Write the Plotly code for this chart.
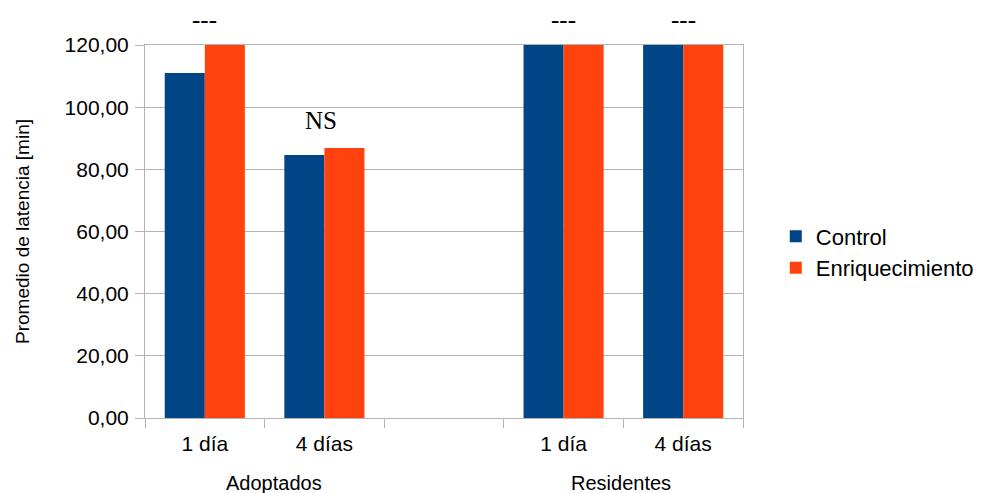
import plotly.graph_objects as go

# ---- data ----
cat_keys = ["A_1", "A_4", "gap", "R_1", "R_4"]
cat_labels = ["1 día", "4 días", "", "1 día", "4 días"]
control = [111.0, 84.6, None, 120.0, 120.0]
enriquecimiento = [120.0, 86.9, None, 120.0, 120.0]
series_names = ["Control", "Enriquecimiento"]
series_colors = ["#004586", "#ff420e"]

group_labels = ["Adoptados", "Residentes"]
mark_cats = ["A_1", "A_4", "R_1", "R_4"]
mark_text = ["---", "NS", "---", "---"]
y_ticks = [0, 20, 40, 60, 80, 100, 120]

fig = go.Figure()
for name, vals, col in zip(series_names, [control, enriquecimiento], series_colors):
    fig.add_trace(go.Bar(x=cat_keys, y=vals, name=name, marker=dict(color=col, line=dict(width=0))))

for c, t in zip(mark_cats, mark_text):
    if t == "NS":
        fig.add_annotation(x=c, y=95, xref="x", yref="y", text=t, showarrow=False,
                           xshift=-3, yshift=2, font=dict(family="Liberation Serif", size=25, color="#000"))
    else:
        fig.add_annotation(x=c, y=120, xref="x", yref="y", text=t, showarrow=False,
                           yshift=26, yanchor="middle",
                           font=dict(family="Liberation Serif", size=25, color="#000"))

for lab, px in zip(group_labels, [0.216, 0.796]):
    fig.add_annotation(x=px, y=-0.174, xref="paper", yref="paper", text=lab, showarrow=False,
                       xanchor="center", yanchor="middle",
                       font=dict(family="Liberation Sans", size=20, color="#000"))

grid = "#b3b3b3"
fig.update_layout(
    width=982, height=493,
    margin=dict(l=145, r=239, t=45, b=75),
    paper_bgcolor="white", plot_bgcolor="white",
    barmode="group", bargap=0.33, bargroupgap=0,
    font=dict(family="Liberation Sans", color="#000"),
    showlegend=True,
    legend=dict(xref="container", x=0.7900, xanchor="left", y=0.444, yanchor="middle",
                font=dict(size=22, color="#000"), bgcolor="rgba(0,0,0,0)",
                tracegroupgap=0, itemwidth=30),
    xaxis=dict(type="category", categoryorder="array", categoryarray=cat_keys,
               tickvals=cat_keys, ticktext=cat_labels, tickson="boundaries",
               ticks="outside", ticklen=9, tickcolor=grid, showgrid=False,
               showline=True, linecolor=grid, mirror=True,
               ticklabelstandoff=7,
               tickfont=dict(size=21, color="#000")),
    yaxis=dict(range=[0, 120], tickvals=y_ticks, tickformat=".2f",
               ticks="outside", ticklen=9, tickcolor=grid,
               showgrid=True, gridcolor=grid, zeroline=False,
               showline=True, linecolor=grid, mirror=True,
               ticklabelstandoff=2,
               tickfont=dict(size=21, color="#000"),
               title=dict(text="Promedio de latencia [min]", font=dict(size=19, color="#000"), standoff=29)),
    separators=",.",
)

fig.write_html("out.html", config={"displayModeBar": False},
               post_script="document.body.style.margin='0px';")
